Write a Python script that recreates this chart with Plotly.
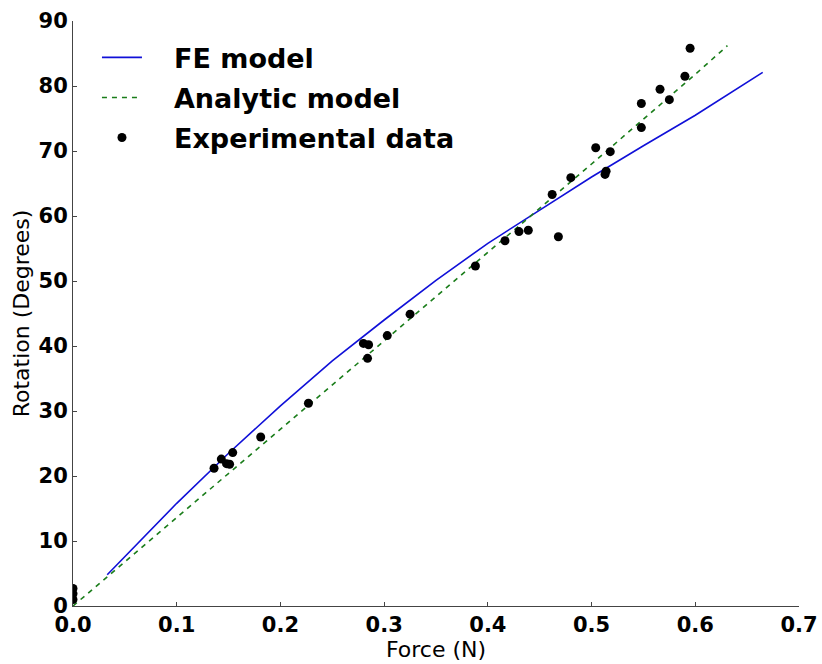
import plotly.graph_objects as go

# FE model curve (force in N, rotation in degrees)
fe_force = [0.033, 0.05, 0.10, 0.15, 0.20, 0.25, 0.30, 0.35, 0.40, 0.45, 0.50, 0.55, 0.60, 0.665]
fe_rotation = [4.8, 7.6, 15.8, 23.5, 30.8, 37.7, 44.0, 50.1, 55.8, 60.9, 66.0, 70.8, 75.5, 82.1]

# Analytic model curve
an_force = [0.0, 0.10, 0.20, 0.30, 0.40, 0.50, 0.60, 0.631]
an_rotation = [0.0, 13.6, 27.2, 40.9, 54.5, 68.0, 81.8, 86.2]

# Experimental measurements
exp_force = [0.0, 0.0, 0.0,
             0.136, 0.143, 0.148, 0.151, 0.154, 0.181,
             0.227,
             0.280, 0.285, 0.284, 0.303, 0.325,
             0.388, 0.4165, 0.430, 0.439, 0.462, 0.468,
             0.480, 0.504, 0.518, 0.513, 0.514, 0.548, 0.548, 0.566, 0.575, 0.590, 0.595]
exp_rotation = [1.0, 1.9, 2.7,
                21.2, 22.6, 21.9, 21.8, 23.6, 26.0,
                31.2,
                40.4, 40.2, 38.1, 41.6, 44.9,
                52.3, 56.2, 57.6, 57.8, 63.3, 56.8,
                65.9, 70.5, 69.9, 66.4, 66.9, 73.6, 77.3, 79.5, 77.9, 81.5, 85.8]

x_ticks = [0.0, 0.1, 0.2, 0.3, 0.4, 0.5, 0.6, 0.7]
y_ticks = [0, 10, 20, 30, 40, 50, 60, 70, 80, 90]

# en spaces leave a gap between each legend sample and its label
PAD = "\u2002\u2002"

fig = go.Figure()
fig.add_trace(go.Scatter(x=fe_force, y=fe_rotation, mode="lines", name=PAD + "FE model",
                         legendgroup="a",
                         line=dict(color="#1010d8", width=1.6)))
fig.add_trace(go.Scatter(x=an_force, y=an_rotation, mode="lines", name=PAD + "Analytic model",
                         legendgroup="b",
                         line=dict(color="#1a7d1a", width=1.6, dash="5px,5px")))
fig.add_trace(go.Scatter(x=exp_force, y=exp_rotation, mode="markers", name=PAD + "Experimental data",
                         legendgroup="c",
                         marker=dict(color="black", size=9)))

axis_common = dict(
    showline=True, linecolor="#444", linewidth=1, mirror=False,
    showgrid=False, zeroline=False, automargin=False,
    ticks="inside", ticklen=4, tickwidth=1, tickcolor="#444",
    tickfont=dict(family="DejaVu Sans", size=21, color="black", weight="bold"),
)

fig.update_xaxes(range=[0, 0.7], tickvals=x_ticks, tickformat=".1f",
                 title=dict(text="Force (N)", font=dict(family="DejaVu Sans", size=22, color="black"),
                            standoff=3),
                 **axis_common)
fig.update_yaxes(range=[0, 90], tickvals=y_ticks,
                 title=dict(text="Rotation (Degrees)", font=dict(family="DejaVu Sans", size=22, color="black"),
                            standoff=2),
                 **axis_common)

fig.update_layout(
    width=822, height=664,
    margin=dict(l=73, r=23, t=21, b=58),
    paper_bgcolor="white", plot_bgcolor="white",
    font=dict(family="DejaVu Sans", color="black"),
    legend=dict(x=0.033, y=0.979, xanchor="left", yanchor="top",
                bgcolor="rgba(0,0,0,0)", borderwidth=0,
                tracegroupgap=2, itemwidth=40,
                font=dict(family="DejaVu Sans", size=27, color="black", weight="bold")),
    showlegend=True,
)

fig.write_html("out.html")
